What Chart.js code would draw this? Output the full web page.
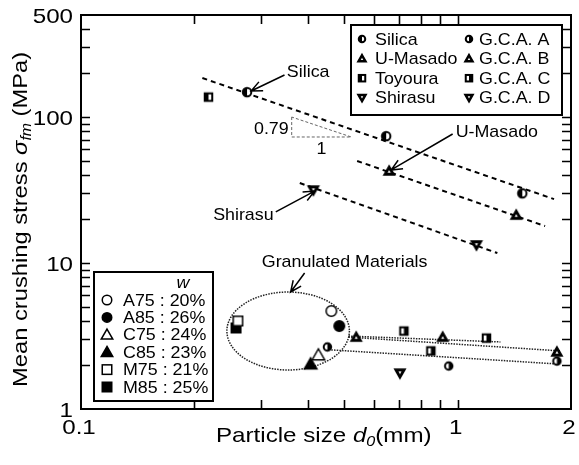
<!DOCTYPE html>
<html>
<head>
<meta charset="utf-8">
<script src="https://cdn.jsdelivr.net/npm/chart.js@4.4.1/dist/chart.umd.min.js"></script>
<style>
  html, body { margin: 0; padding: 0; background: #fff; }
  #wrap { width: 579px; height: 465px; }
</style>
</head>
<body>
<div id="wrap"><canvas id="myChart" width="579" height="465"></canvas></div>
<script>
// particle size d0 (mm) / mean crushing stress (MPa)
const silicaX = [0.276, 0.646, 1.485];
const silicaY = [148, 74, 30];
const masadoX = [0.658, 1.431];
const masadoY = [42.7, 21.3];
const toyouraX = [0.218];
const toyouraY = [137];
const shirasuX = [0.414, 1.122];
const shirasuY = [31.6, 13.3];

const gcaAX = [0.451, 0.947, 1.835];
const gcaAY = [2.66, 1.97, 2.13];
const gcaBX = [0.538, 0.913, 1.835];
const gcaBY = [3.11, 3.11, 2.46];
const gcaCX = [0.72, 1.193, 0.849];
const gcaCY = [3.42, 3.06, 2.50];
const gcaDX = [0.703];
const gcaDY = [1.76];

// granulated materials
const a75X = [0.462], a75Y = [4.69];
const a85X = [0.485], a85Y = [3.70];
const c75X = [0.427], c75Y = [2.34];
const c85X = [0.407], c85Y = [2.03];
const m75X = [0.261], m75Y = [4.01];
const m85X = [0.258], m85Y = [3.59];

// fitted lines (end points)
const silicaFitX = [0.210, 1.803], silicaFitY = [185, 27.4];
const masadoFitX = [0.541, 1.707], masadoFitY = [50, 17.9];
const shirasuFitX = [0.381, 1.275], shirasuFitY = [35.3, 11.7];
const gcaFit1X = [0.513, 1.299], gcaFit1Y = [3.16, 2.88];
const gcaFit2X = [0.513, 1.870], gcaFit2Y = [3.11, 2.50];
const gcaFit3X = [0.462, 1.870], gcaFit3Y = [2.54, 2.03];

// slope triangle 0.79 : 1
const slopeX = [0.3626, 0.3626, 0.522, 0.3626];
const slopeY = [100, 73, 73, 100];

const xTickLabels = [0.1, 1, 2];
const yTickLabels = [1, 10, 100, 500];
const xMinorTicks = [0.2, 0.3, 0.4, 0.5, 0.6, 0.7, 0.8, 0.9, 1];
const yMinorTicks = [2, 3, 4, 5, 6, 7, 8, 9, 10, 20, 30, 40, 50, 60, 70, 80, 90, 100, 200, 300, 400];

const sandLegend = ["Silica", "U-Masado", "Toyoura", "Shirasu"];
const gcaLegend = ["G.C.A. A", "G.C.A. B", "G.C.A. C", "G.C.A. D"];
const granLegend = ["A75 : 20%", "A85 : 26%", "C75 : 24%", "C85 : 23%", "M75 : 21%", "M85 : 25%"];

const FONT = "'Liberation Sans', Arial, sans-serif";

function drawMarker(c, type, x, y, s) {
  const r = s / 2;
  c.save();
  c.lineWidth = 1.5;
  c.strokeStyle = "#000";
  c.fillStyle = "#fff";
  c.beginPath();
  if (type.startsWith("circle")) {
    c.arc(x, y, r - 0.75, 0, Math.PI * 2);
    c.fillStyle = type === "circleFill" ? "#000" : "#fff";
    c.fill();
    if (type === "circleHalfL" || type === "circleHalfR") {
      c.beginPath();
      if (type === "circleHalfL") c.arc(x, y, r - 0.75, Math.PI / 2, Math.PI * 1.5);
      else c.arc(x, y, r - 0.75, -Math.PI / 2, Math.PI / 2);
      c.closePath();
      c.fillStyle = "#000";
      c.fill();
      c.lineWidth = 2;
    }
    c.beginPath();
    c.arc(x, y, r - 0.75, 0, Math.PI * 2);
    c.stroke();
  } else if (type.startsWith("square")) {
    const h = r - 0.75;
    c.fillStyle = type === "squareFill" ? "#000" : "#fff";
    c.fillRect(x - h, y - h, 2 * h, 2 * h);
    c.fillStyle = "#000";
    if (type === "squareHalfL") c.fillRect(x - h, y - h, h, 2 * h);
    if (type === "squareHalfR") c.fillRect(x, y - h, h, 2 * h);
    c.lineWidth = type.includes("Half") ? 2 : 1.5;
    c.strokeRect(x - h, y - h, 2 * h, 2 * h);
  } else {
    const down = type.includes("Down");
    const d = down ? -1 : 1;
    const h = r - 0.75;
    const v = [[x, y - d * h], [x + h, y + d * h * 0.75], [x - h, y + d * h * 0.75]];
    c.moveTo(v[0][0], v[0][1]);
    c.lineTo(v[1][0], v[1][1]);
    c.lineTo(v[2][0], v[2][1]);
    c.closePath();
    c.fillStyle = type === "triFill" ? "#000" : "#fff";
    if (type.includes("Thick")) c.fillStyle = "#000";
    c.fill();
    c.stroke();
    if (type.includes("Thick")) {
      const cy = (v[0][1] + v[1][1] + v[2][1]) / 3;
      c.beginPath();
      v.forEach((p, i) => {
        const px = x + (p[0] - x) * 0.3, py = cy + (p[1] - cy) * 0.3;
        if (i === 0) c.moveTo(px, py); else c.lineTo(px, py);
      });
      c.closePath();
      c.fillStyle = "#fff";
      c.fill();
    }
  }
  c.restore();
}

function markerImage(type, s) {
  const cv = document.createElement("canvas");
  cv.width = s + 4;
  cv.height = s + 4;
  drawMarker(cv.getContext("2d"), type, (s + 4) / 2, (s + 4) / 2, s);
  return cv;
}

function pts(xs, ys) {
  return xs.map((x, i) => ({ x: x, y: ys[i] }));
}

function scatterSet(label, xs, ys, type, size) {
  return {
    type: "scatter", label: label, data: pts(xs, ys),
    pointStyle: markerImage(type, size), pointRadius: size / 2, order: 1
  };
}

function lineSet(xs, ys, dash, width, color) {
  return {
    type: "line", data: pts(xs, ys), showLine: true, fill: false,
    borderColor: color || "#000", borderWidth: width, borderDash: dash,
    pointRadius: 0, tension: 0, order: 2
  };
}

const sandTypes = ["circleHalfL", "triThick", "squareHalfL", "triDownThick"];
const gcaTypes = ["circleHalfR", "triThick", "squareHalfR", "triDownThick"];
const granTypes = ["circleOpen", "circleFill", "triOpen", "triFill", "squareOpen", "squareFill"];

// text with a horizontal stretch, parts = [{t, f, dy}]
function drawRich(c, parts, x, y, k, align) {
  c.save();
  let w = 0;
  parts.forEach(p => { c.font = p.f; w += c.measureText(p.t).width; });
  c.translate(x, y);
  c.scale(k, 1);
  let cx = align === "right" ? -w : align === "center" ? -w / 2 : 0;
  c.textAlign = "left";
  parts.forEach(p => {
    c.font = p.f;
    c.fillText(p.t, cx, p.dy || 0);
    cx += c.measureText(p.t).width;
  });
  c.restore();
}

function arrow(c, x1, y1, x2, y2) {
  const a = Math.atan2(y2 - y1, x2 - x1);
  const L = 12, w = 0.42;
  c.beginPath();
  c.moveTo(x1, y1);
  c.lineTo(x2, y2);
  c.moveTo(x2 - L * Math.cos(a - w), y2 - L * Math.sin(a - w));
  c.lineTo(x2, y2);
  c.lineTo(x2 - L * Math.cos(a + w), y2 - L * Math.sin(a + w));
  c.stroke();
}

// inward ticks on all four sides, drawn as one stroked path
function drawTicks(c, a, xs, ys) {
  const tl = 9;
  c.save();
  c.setLineDash([]);
  c.strokeStyle = "#000";
  c.lineWidth = 1.6;
  c.beginPath();
  xMinorTicks.forEach(v => {
    const p = Math.round(xs.getPixelForValue(v)) + 0.5;
    c.moveTo(p, a.bottom);
    c.lineTo(p, a.bottom - tl);
    c.moveTo(p, a.top);
    c.lineTo(p, a.top + tl);
  });
  yMinorTicks.forEach(v => {
    const p = Math.round(ys.getPixelForValue(v)) + 0.5;
    c.moveTo(a.left, p);
    c.lineTo(a.left + tl, p);
    c.moveTo(a.right, p);
    c.lineTo(a.right - tl, p);
  });
  c.stroke();
  c.restore();
}

// annotation anchors, in data units
const notes = [
  { text: "Silica", x: 0.352, y: 203, ax: [0.347, 0.283], ay: [194, 150.7] },
  { text: "U-Masado", x: 0.988, y: 78.9, ax: [0.970, 0.666], ay: [76.5, 43.4] },
  { text: "Shirasu", x: 0.2243, y: 21.3, ax: [0.329, 0.417], ay: [22.4, 31.1] },
  { text: "Granulated Materials", x: 0.302, y: 10.16, ax: [0.3924, 0.3603], ay: [8.54, 6.33] }
];
const ellipseX = [0.244, 0.516];
const ellipseY = [1.85, 6.33];

const decor = {
  id: "decor",
  beforeDatasetsDraw(chart) {
    const c = chart.ctx, a = chart.chartArea, xs = chart.scales.x, ys = chart.scales.y;
    drawTicks(c, a, xs, ys);
    const l = xs.getPixelForValue(ellipseX[0]), r = xs.getPixelForValue(ellipseX[1]);
    const t = ys.getPixelForValue(ellipseY[1]), b = ys.getPixelForValue(ellipseY[0]);
    c.save();
    c.strokeStyle = "#222";
    c.lineWidth = 1.5;
    c.setLineDash([1.5, 1.2]);
    c.beginPath();
    c.ellipse((l + r) / 2, (t + b) / 2, (r - l) / 2, (b - t) / 2, 0, 0, Math.PI * 2);
    c.stroke();
    c.restore();
  },
  afterDraw(chart) {
    const c = chart.ctx, a = chart.chartArea, xs = chart.scales.x, ys = chart.scales.y;
    c.save();
    c.setLineDash([]);
    c.fillStyle = "#000";
    c.strokeStyle = "#000";
    c.textBaseline = "middle";

    // tick labels
    const tf = "21px " + FONT;
    xTickLabels.forEach(v => {
      drawRich(c, [{ t: String(v), f: tf }], xs.getPixelForValue(v) - 2, a.bottom + 19, 1.15, "center");
    });
    yTickLabels.forEach(v => {
      drawRich(c, [{ t: String(v), f: tf }], a.left - 8, ys.getPixelForValue(v) + 2, 1.15, "right");
    });

    // axis titles
    c.textBaseline = "alphabetic";
    drawRich(c, [
      { t: "Particle size ", f: "21px " + FONT },
      { t: "d", f: "italic 21px " + FONT },
      { t: "0", f: "italic 14px " + FONT, dy: 4 },
      { t: "(mm)", f: "21px " + FONT }
    ], 216, 442, 1.15, "left");
    c.save();
    c.translate(27, 387);
    c.rotate(-Math.PI / 2);
    drawRich(c, [
      { t: "Mean crushing stress ", f: "21px " + FONT },
      { t: "\u03c3", f: "italic 21px " + FONT },
      { t: "fm", f: "italic 14px " + FONT, dy: 4 },
      { t: " (MPa)", f: "21px " + FONT }
    ], 0, 0, 1.13, "left");
    c.restore();
    c.textBaseline = "middle";

    // annotations with arrows
    c.lineWidth = 1.5;
    notes.forEach(n => {
      drawRich(c, [{ t: n.text, f: "17px " + FONT }], xs.getPixelForValue(n.x), ys.getPixelForValue(n.y), 1.05, "left");
      arrow(c, xs.getPixelForValue(n.ax[0]), ys.getPixelForValue(n.ay[0]),
        xs.getPixelForValue(n.ax[1]), ys.getPixelForValue(n.ay[1]));
    });
    drawRich(c, [{ t: "0.79", f: "17px " + FONT }], xs.getPixelForValue(slopeX[0]) - 3,
      ys.getPixelForValue(82.8), 1.05, "right");
    drawRich(c, [{ t: "1", f: "17px " + FONT }], (xs.getPixelForValue(slopeX[1]) + xs.getPixelForValue(slopeX[2])) / 2,
      ys.getPixelForValue(slopeY[1]) + 12, 1.05, "center");

    // legend, top right
    let bx = a.right - 220, by = a.top + 10;
    c.fillStyle = "#fff";
    c.fillRect(bx, by, 211, 90);
    c.lineWidth = 2;
    c.strokeRect(bx, by, 211, 90);
    c.fillStyle = "#000";
    sandLegend.forEach((s, i) => {
      const yy = by + 14 + i * 19.6;
      drawMarker(c, sandTypes[i], bx + 11, yy, i === 1 || i === 3 ? 10 : 8);
      drawRich(c, [{ t: s, f: "17px " + FONT }], bx + 24, yy + 1, 1.05, "left");
      drawMarker(c, gcaTypes[i], bx + 118, yy, i === 1 || i === 3 ? 10 : 8);
      drawRich(c, [{ t: gcaLegend[i], f: "17px " + FONT }], bx + 128, yy + 1, 1.05, "left");
    });

    // legend, bottom left
    bx = a.left + 13; by = a.bottom - 137;
    c.fillStyle = "#fff";
    c.fillRect(bx, by, 119, 129);
    c.lineWidth = 2;
    c.strokeRect(bx, by, 119, 129);
    c.fillStyle = "#000";
    drawRich(c, [{ t: "w", f: "italic 17px " + FONT }], bx + 89, by + 11, 1.05, "center");
    granLegend.forEach((s, i) => {
      const yy = by + 28 + i * 17.4;
      drawMarker(c, granTypes[i], bx + 13, yy, i === 2 || i === 3 ? 13 : 11);
      drawRich(c, [{ t: s, f: "17px " + FONT }], bx + 29, yy + 1, 1.05, "left");
    });

    // frame
    c.lineWidth = 2;
    c.strokeRect(a.left, a.top, a.right - a.left, a.bottom - a.top);
    c.restore();
  }
};

const ctx = document.getElementById("myChart").getContext("2d");

const myChart = new Chart(ctx, {
  type: "scatter",
  data: {
    datasets: [
      lineSet(silicaFitX, silicaFitY, [5, 4], 2),
      lineSet(masadoFitX, masadoFitY, [5, 4], 2),
      lineSet(shirasuFitX, shirasuFitY, [5, 4], 2),
      lineSet(gcaFit1X, gcaFit1Y, [1.5, 1.2], 1.5, "#222"),
      lineSet(gcaFit2X, gcaFit2Y, [1.5, 1.2], 1.5, "#222"),
      lineSet(gcaFit3X, gcaFit3Y, [1.5, 1.2], 1.5, "#222"),
      lineSet(slopeX, slopeY, [3, 2], 1, "#666"),
      scatterSet(sandLegend[0], silicaX, silicaY, sandTypes[0], 10),
      scatterSet(sandLegend[1], masadoX, masadoY, sandTypes[1], 12),
      scatterSet(sandLegend[2], toyouraX, toyouraY, sandTypes[2], 9),
      scatterSet(sandLegend[3], shirasuX, shirasuY, sandTypes[3], 12),
      scatterSet(gcaLegend[0], gcaAX, gcaAY, gcaTypes[0], 9),
      scatterSet(gcaLegend[1], gcaBX, gcaBY, gcaTypes[1], 12),
      scatterSet(gcaLegend[2], gcaCX, gcaCY, gcaTypes[2], 9),
      scatterSet(gcaLegend[3], gcaDX, gcaDY, gcaTypes[3], 12),
      scatterSet(granLegend[0], a75X, a75Y, granTypes[0], 12),
      scatterSet(granLegend[1], a85X, a85Y, granTypes[1], 12),
      scatterSet(granLegend[2], c75X, c75Y, granTypes[2], 14),
      scatterSet(granLegend[3], c85X, c85Y, granTypes[3], 14),
      scatterSet(granLegend[4], m75X, m75Y, granTypes[4], 11),
      scatterSet(granLegend[5], m85X, m85Y, granTypes[5], 11)
    ]
  },
  options: {
    responsive: false,
    animation: false,
    layout: { padding: { left: 0, right: 5, top: 15, bottom: 0 } },
    scales: {
      x: {
        type: "logarithmic", min: 0.1, max: 2,
        grid: { display: false, drawTicks: false },
        border: { display: false },
        ticks: { display: false, autoSkip: false },
        afterFit: s => { s.height = 56; }
      },
      y: {
        type: "logarithmic", min: 1, max: 500,
        grid: { display: false, drawTicks: false },
        border: { display: false },
        ticks: { display: false, autoSkip: false },
        afterFit: s => { s.width = 81; }
      }
    },
    plugins: {
      legend: { display: false },
      tooltip: { enabled: false }
    }
  },
  plugins: [decor]
});
</script>
</body>
</html>
